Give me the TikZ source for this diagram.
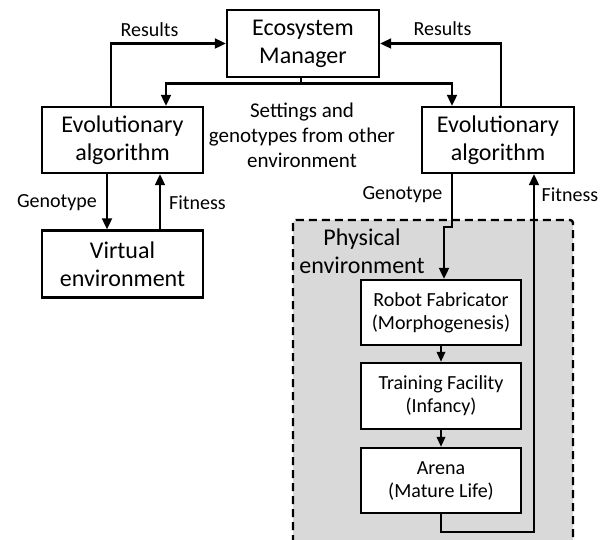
\documentclass[tikz,border=0pt]{standalone}
\usepackage{fontspec}
\setmainfont{Carlito}
\usetikzlibrary{arrows.meta,calc}
\definecolor{physgray}{HTML}{D9D9D9}
\begin{document}
\begin{tikzpicture}[x=1pt,y=-1pt,
  box/.style={draw=black,line width=2.4pt,fill=white,align=center,inner sep=0pt},
  bigbox/.style={box,font=\fontsize{24}{28}\selectfont},
  smallbox/.style={box,font=\fontsize{20}{23}\selectfont,minimum width=160pt},
  lbl/.style={font=\fontsize{20}{24}\selectfont,inner sep=0pt},
  conn/.style={line width=2.1pt},
  arr/.style={conn,-{Triangle[length=11pt,width=10pt]}},
  sarr/.style={conn,-{Triangle[length=10pt,width=8.5pt]}}]
\useasboundingbox (0,0) rectangle (611,539);
% physical environment region
\path[fill=physgray,draw=black,line width=2.4pt,dash pattern=on 8pt off 5pt,rounded corners=3pt]
  (293,220) rectangle (573,560);
\node[font=\fontsize{24}{28}\selectfont,align=center,inner sep=0pt] (physlbl) at (362,251) {Physical\\environment};
% nodes
\node[bigbox,minimum width=152pt,minimum height=67pt] (eco) at (303,43.5) {Ecosystem\\Manager};
\node[bigbox,minimum width=161pt,minimum height=66pt] (ea1) at (122.5,140) {Evolutionary\\algorithm};
\node[bigbox,minimum width=152pt,minimum height=66pt] (ea2) at (498,140) {Evolutionary\\algorithm};
\node[bigbox,minimum width=161pt,minimum height=67pt] (virt) at (122.5,264) {Virtual\\environment};
\node[smallbox,minimum height=65pt] (robot) at (441,312.5) {Robot Fabricator\\(Morphogenesis)};
\node[smallbox,minimum height=66pt] (train) at (441,396) {Training Facility\\(Infancy)};
\node[smallbox,minimum height=65pt] (arena) at (441,480.5) {Arena\\(Mature Life)};
% labels
\node[lbl] (res1) at (149.5,30) {Results};
\node[lbl] (res2) at (442.5,29) {Results};
\node[font=\fontsize{21}{25}\selectfont,align=center,inner sep=0pt] (settings) at (302,135) {Settings and\\genotypes from other\\environment};
\node[lbl] (geno1) at (57,203) {Genotype};
\node[lbl] (fit1) at (197.5,203) {Fitness};
\node[lbl] (geno2) at (402.5,195) {Genotype};
\node[lbl] (fit2) at (570,195) {Fitness};
% connectors
\draw[arr] ([xshift=-11.5pt]ea1.north) |- (eco.west);
\draw[arr] ([xshift=3pt]ea2.north) |- (eco.east);
\coordinate (split) at (301,83.5);
\draw[conn] (eco.south -| split) -- (split);
\draw[arr] (split) -| ([xshift=43.5pt]ea1.north);
\draw[arr] (split) -| ([xshift=-46pt]ea2.north);
\draw[arr] ([xshift=-15.5pt]ea1.south) -- ([xshift=-15.5pt]virt.north);
\draw[arr] ([xshift=37.5pt]virt.north) -- ([xshift=37.5pt]ea1.south);
\coordinate (jog) at (452,227);
\draw[arr] ([xshift=-46pt]ea2.south) -- (jog) -| ([xshift=3pt]robot.north);
\draw[sarr] (robot.south) -- (train.north);
\draw[sarr] (train.south) -- (arena.north);
\coordinate (loop) at (441,532);
\draw[arr] (arena.south) -- (loop) -| ([xshift=36pt]ea2.south);
\end{tikzpicture}
\end{document}
